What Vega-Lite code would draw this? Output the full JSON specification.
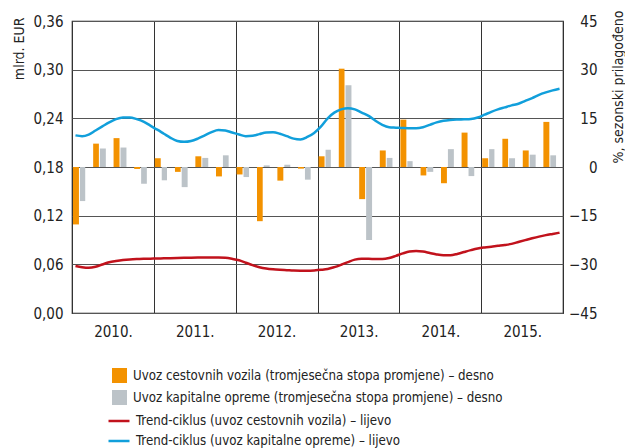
{
  "$schema": "https://vega.github.io/schema/vega-lite/v6.json",
  "width": 491,
  "height": 292,
  "autosize": {"type": "none"},
  "padding": {"left": 72, "top": 21, "right": 62, "bottom": 135},
  "config": {
    "font": "DejaVu Sans Condensed, Liberation Sans, sans-serif",
    "view": {"stroke": "#1a1a1a", "strokeWidth": 1.2},
    "axis": {
      "labelFont": "DejaVu Sans Condensed, Liberation Sans, sans-serif",
      "labelFontSize": 15,
      "labelColor": "#222222",
      "titleFont": "DejaVu Sans Condensed, Liberation Sans, sans-serif",
      "titleFontSize": 14,
      "titleFontWeight": "normal",
      "titleColor": "#222222",
      "ticks": false,
      "tickSize": 0,
      "domain": false
    },
    "legend": {
      "labelFont": "DejaVu Sans Condensed, Liberation Sans, sans-serif",
      "labelFontSize": 13.2,
      "labelColor": "#222222",
      "labelLimit": 600,
      "padding": 0,
      "offset": 0
    }
  },
  "datasets": {
    "cestovna": [
      {"date": "2010-01-01", "v": -17.7}, {"date": "2010-04-01", "v": 7.2}, {"date": "2010-07-01", "v": 8.9}, {"date": "2010-10-01", "v": -0.6},
      {"date": "2011-01-01", "v": 2.7}, {"date": "2011-04-01", "v": -1.5}, {"date": "2011-07-01", "v": 3.3}, {"date": "2011-10-01", "v": -2.9},
      {"date": "2012-01-01", "v": -2.3}, {"date": "2012-04-01", "v": -16.7}, {"date": "2012-07-01", "v": -4.2}, {"date": "2012-10-01", "v": -0.5},
      {"date": "2013-01-01", "v": 3.3}, {"date": "2013-04-01", "v": 30.3}, {"date": "2013-07-01", "v": -9.9}, {"date": "2013-10-01", "v": 5.1},
      {"date": "2014-01-01", "v": 14.6}, {"date": "2014-04-01", "v": -2.6}, {"date": "2014-07-01", "v": -5.0}, {"date": "2014-10-01", "v": 10.6},
      {"date": "2015-01-01", "v": 2.7}, {"date": "2015-04-01", "v": 8.7}, {"date": "2015-07-01", "v": 5.1}, {"date": "2015-10-01", "v": 13.9}
    ],
    "kapitalna": [
      {"date": "2010-02-01", "v": -10.5}, {"date": "2010-05-01", "v": 5.7}, {"date": "2010-08-01", "v": 6.0}, {"date": "2010-11-01", "v": -5.2},
      {"date": "2011-02-01", "v": -4.1}, {"date": "2011-05-01", "v": -6.2}, {"date": "2011-08-01", "v": 2.8}, {"date": "2011-11-01", "v": 3.6},
      {"date": "2012-02-01", "v": -3.1}, {"date": "2012-05-01", "v": 0.5}, {"date": "2012-08-01", "v": 0.7}, {"date": "2012-11-01", "v": -3.9},
      {"date": "2013-02-01", "v": 5.3}, {"date": "2013-05-01", "v": 25.2}, {"date": "2013-08-01", "v": -22.5}, {"date": "2013-11-01", "v": 2.8},
      {"date": "2014-02-01", "v": 1.8}, {"date": "2014-05-01", "v": -1.5}, {"date": "2014-08-01", "v": 5.5}, {"date": "2014-11-01", "v": -2.8},
      {"date": "2015-02-01", "v": 5.5}, {"date": "2015-05-01", "v": 2.7}, {"date": "2015-08-01", "v": 3.8}, {"date": "2015-11-01", "v": 3.6}
    ],
    "trend": [
      {"date": "2010-01-01", "c": 0.058, "k": 0.219}, {"date": "2010-02-01", "c": 0.0565, "k": 0.218}, {"date": "2010-03-01", "c": 0.0558, "k": 0.220},
      {"date": "2010-04-01", "c": 0.057, "k": 0.225}, {"date": "2010-05-01", "c": 0.0598, "k": 0.230}, {"date": "2010-06-01", "c": 0.0625, "k": 0.235},
      {"date": "2010-07-01", "c": 0.064, "k": 0.239}, {"date": "2010-08-01", "c": 0.0652, "k": 0.241}, {"date": "2010-09-01", "c": 0.066, "k": 0.241},
      {"date": "2010-10-01", "c": 0.0665, "k": 0.239}, {"date": "2010-11-01", "c": 0.0668, "k": 0.236}, {"date": "2010-12-01", "c": 0.067, "k": 0.231},
      {"date": "2011-01-01", "c": 0.0672, "k": 0.226}, {"date": "2011-02-01", "c": 0.0674, "k": 0.221}, {"date": "2011-03-01", "c": 0.0676, "k": 0.216},
      {"date": "2011-04-01", "c": 0.0678, "k": 0.212}, {"date": "2011-05-01", "c": 0.068, "k": 0.211}, {"date": "2011-06-01", "c": 0.0682, "k": 0.212},
      {"date": "2011-07-01", "c": 0.0683, "k": 0.215}, {"date": "2011-08-01", "c": 0.0683, "k": 0.219}, {"date": "2011-09-01", "c": 0.0683, "k": 0.223},
      {"date": "2011-10-01", "c": 0.0683, "k": 0.2255}, {"date": "2011-11-01", "c": 0.068, "k": 0.225}, {"date": "2011-12-01", "c": 0.0668, "k": 0.2225},
      {"date": "2012-01-01", "c": 0.065, "k": 0.220}, {"date": "2012-02-01", "c": 0.062, "k": 0.218}, {"date": "2012-03-01", "c": 0.059, "k": 0.2185},
      {"date": "2012-04-01", "c": 0.0565, "k": 0.2205}, {"date": "2012-05-01", "c": 0.0548, "k": 0.2225}, {"date": "2012-06-01", "c": 0.0538, "k": 0.2228},
      {"date": "2012-07-01", "c": 0.0532, "k": 0.221}, {"date": "2012-08-01", "c": 0.0528, "k": 0.218}, {"date": "2012-09-01", "c": 0.0524, "k": 0.215},
      {"date": "2012-10-01", "c": 0.0522, "k": 0.214}, {"date": "2012-11-01", "c": 0.0522, "k": 0.217}, {"date": "2012-12-01", "c": 0.0525, "k": 0.222},
      {"date": "2013-01-01", "c": 0.0532, "k": 0.230}, {"date": "2013-02-01", "c": 0.0542, "k": 0.240}, {"date": "2013-03-01", "c": 0.0565, "k": 0.247},
      {"date": "2013-04-01", "c": 0.0595, "k": 0.251}, {"date": "2013-05-01", "c": 0.0628, "k": 0.2525}, {"date": "2013-06-01", "c": 0.0658, "k": 0.251},
      {"date": "2013-07-01", "c": 0.0668, "k": 0.247}, {"date": "2013-08-01", "c": 0.0668, "k": 0.243}, {"date": "2013-09-01", "c": 0.0666, "k": 0.237},
      {"date": "2013-10-01", "c": 0.0666, "k": 0.232}, {"date": "2013-11-01", "c": 0.0678, "k": 0.229}, {"date": "2013-12-01", "c": 0.0705, "k": 0.2285},
      {"date": "2014-01-01", "c": 0.0735, "k": 0.228}, {"date": "2014-02-01", "c": 0.0758, "k": 0.2278}, {"date": "2014-03-01", "c": 0.0765, "k": 0.2277},
      {"date": "2014-04-01", "c": 0.0758, "k": 0.229}, {"date": "2014-05-01", "c": 0.074, "k": 0.232}, {"date": "2014-06-01", "c": 0.0722, "k": 0.235},
      {"date": "2014-07-01", "c": 0.0712, "k": 0.237}, {"date": "2014-08-01", "c": 0.0712, "k": 0.238}, {"date": "2014-09-01", "c": 0.0728, "k": 0.2385},
      {"date": "2014-10-01", "c": 0.0752, "k": 0.2388}, {"date": "2014-11-01", "c": 0.0775, "k": 0.2392}, {"date": "2014-12-01", "c": 0.0795, "k": 0.241},
      {"date": "2015-01-01", "c": 0.0808, "k": 0.2445}, {"date": "2015-02-01", "c": 0.0818, "k": 0.248}, {"date": "2015-03-01", "c": 0.0828, "k": 0.251},
      {"date": "2015-04-01", "c": 0.0838, "k": 0.2535}, {"date": "2015-05-01", "c": 0.0852, "k": 0.256}, {"date": "2015-06-01", "c": 0.0875, "k": 0.258},
      {"date": "2015-07-01", "c": 0.0898, "k": 0.2615}, {"date": "2015-08-01", "c": 0.0921, "k": 0.265}, {"date": "2015-09-01", "c": 0.0942, "k": 0.269},
      {"date": "2015-10-01", "c": 0.096, "k": 0.272}, {"date": "2015-11-01", "c": 0.0975, "k": 0.2745}, {"date": "2015-12-01", "c": 0.099, "k": 0.2765}
    ]
  },
  "layer": [
    {
      "encoding": {
        "y": {
          "type": "quantitative",
          "scale": {"domain": [-45, 45], "nice": false, "zero": false},
          "axis": {
            "orient": "right",
            "values": [-45, -30, -15, 0, 15, 30, 45],
            "grid": false,
            "labelAlign": "right",
            "labelPadding": 34,
            "title": "%, sezonski prilagođeno",
            "titleAngle": 270,
            "titleAlign": "right",
            "titleBaseline": "alphabetic",
            "titleX": 59,
            "titleY": -11
          }
        }
      },
      "layer": [
        {
          "data": {"name": "cestovna"},
          "mark": {"type": "bar"},
          "encoding": {
            "x": {
              "field": "date", "type": "temporal", "timeUnit": "utcyearmonth",
              "scale": {"type": "utc", "domain": [{"year": 2010, "month": 1, "date": 1, "utc": true}, {"year": 2016, "month": 1, "date": 1, "utc": true}]},
              "axis": {
                "values": [{"year": 2010, "month": 1, "date": 1, "utc": true}, {"year": 2011, "month": 1, "date": 1, "utc": true}, {"year": 2012, "month": 1, "date": 1, "utc": true}, {"year": 2013, "month": 1, "date": 1, "utc": true}, {"year": 2014, "month": 1, "date": 1, "utc": true}, {"year": 2015, "month": 1, "date": 1, "utc": true}],
                "format": "%Y.",
                "labelOffset": 41,
                "labelPadding": 11,
                "labelOverlap": false,
                "labelFlush": false,
                "labelBound": false,
                "grid": true,
                "gridColor": "#333333",
                "gridWidth": 1,
                "title": null
              }
            },
            "y": {"field": "v"},
            "fill": {"datum": "Uvoz cestovnih vozila (tromjesečna stopa promjene) – desno", "type": "nominal",
              "scale": {"range": ["#f39200", "#bcc3c8"]},
              "legend": {"orient": "none", "legendX": 40, "legendY": 347, "title": null, "symbolType": "square", "symbolSize": 225, "symbolStrokeWidth": 0, "labelOffset": 6, "rowPadding": 7}}
          }
        },
        {
          "data": {"name": "kapitalna"},
          "mark": {"type": "bar"},
          "encoding": {
            "x": {"field": "date", "type": "temporal", "timeUnit": "utcyearmonth"},
            "y": {"field": "v"},
            "fill": {"datum": "Uvoz kapitalne opreme (tromjesečna stopa promjene) – desno", "type": "nominal"}
          }
        }
      ]
    },
    {
      "data": {"name": "trend"},
      "encoding": {
        "x": {"field": "date", "type": "temporal", "timeUnit": "utcyearmonth", "bandPosition": 0.5},
        "y": {
          "type": "quantitative",
          "scale": {"domain": [0, 0.36], "nice": false},
          "axis": {
            "orient": "left",
            "values": [0, 0.06, 0.12, 0.18, 0.24, 0.3, 0.36],
            "labelExpr": "replace(format(datum.value, '.2f'), '.', ',')",
            "grid": true,
            "gridColor": "#555555",
            "gridWidth": 1,
            "labelPadding": 9,
            "title": "mlrd. EUR",
            "titleAngle": 270,
            "titleAlign": "right",
            "titleBaseline": "alphabetic",
            "titleX": -49,
            "titleY": -4
          }
        }
      },
      "layer": [
        {
          "mark": {"type": "line", "strokeWidth": 2.5, "interpolate": "monotone"},
          "encoding": {
            "y": {"field": "c"},
            "stroke": {"datum": "Trend-ciklus (uvoz cestovnih vozila) – lijevo", "type": "nominal",
              "scale": {"range": ["#c1121c", "#119fdb"]},
              "legend": {"orient": "none", "legendX": 35, "legendY": 388, "title": null, "symbolType": "stroke", "symbolSize": 441, "symbolStrokeWidth": 2.5, "labelOffset": 5, "rowPadding": 1}}
          }
        },
        {
          "mark": {"type": "line", "strokeWidth": 2.5, "interpolate": "monotone"},
          "encoding": {
            "y": {"field": "k"},
            "stroke": {"datum": "Trend-ciklus (uvoz kapitalne opreme) – lijevo", "type": "nominal"}
          }
        }
      ]
    }
  ],
  "resolve": {"scale": {"y": "independent"}}
}
